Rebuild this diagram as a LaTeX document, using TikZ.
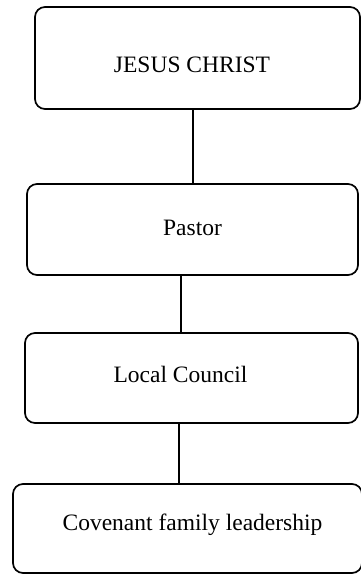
\documentclass[tikz,border=0pt]{standalone}
\usepackage{fontspec}
\setmainfont{Liberation Serif}
\begin{document}
\begin{tikzpicture}[x=1pt,y=-1pt,
  box/.style={draw=black, line width=1.7pt, rounded corners=10pt, inner sep=0pt, outer sep=0pt},
  lbl/.style={anchor=base, inner sep=0pt, font=\fontsize{23.5}{28}\selectfont},
  link/.style={draw=black, line width=1.7pt}]
\useasboundingbox (0,0) rectangle (360,574);
\node[box, minimum width=325pt, minimum height=102pt] (b1) at (197.5,58) {};
\node[box, minimum width=331pt, minimum height=91pt] (b2) at (192.5,229.5) {};
\node[box, minimum width=333pt, minimum height=90pt] (b3) at (191.5,378) {};
\node[box, minimum width=349pt, minimum height=89pt] (b4) at (187.5,528.5) {};
\node[lbl] (t1) at (192,72) {JESUS CHRIST};
\node[lbl] (t2) at (192.5,235) {Pastor};
\node[lbl] (t3) at (180.5,382) {Local Council};
\node[lbl] (t4) at (192.5,530) {Covenant family leadership};
\draw[link] ([xshift=-4.5pt]b1.south) -- ([xshift=-4.5pt]b1.south |- b2.north);
\draw[link] ([xshift=-11.5pt]b2.south) -- ([xshift=-11.5pt]b2.south |- b3.north);
\draw[link] ([xshift=-12.5pt]b3.south) -- ([xshift=-12.5pt]b3.south |- b4.north);
\end{tikzpicture}
\end{document}
